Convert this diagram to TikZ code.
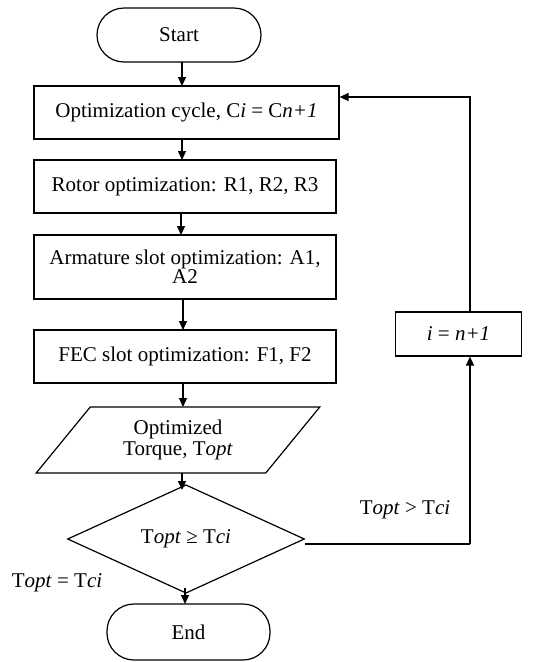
\documentclass[tikz,border=0pt]{standalone}
\usepackage{fontspec}
\setmainfont{Liberation Serif}
\usetikzlibrary{shapes.geometric,arrows.meta}
\begin{document}
\begin{tikzpicture}[x=1pt,y=-1pt,
  base/.style={draw, line width=1.2pt, inner sep=0pt, font=\fontsize{21}{18}\selectfont, align=center},
  term/.style={base, rounded corners=27pt},
  proc/.style={base, rectangle},
  io/.style={base, trapezium, trapezium left angle=50, trapezium right angle=130, trapezium stretches=true},
  dec/.style={base, diamond},
  lbl/.style={inner sep=0pt, font=\fontsize{21}{18}\selectfont},
  arr/.style={line width=1.2pt, -{Triangle[length=9pt,width=8pt]}},
  ln/.style={line width=1.2pt}]
\useasboundingbox (0,0) rectangle (552,662);
\node[term, minimum width=164, minimum height=54] (start) at (179,35) {Start};
\node[proc, minimum width=305, minimum height=53] (cyc) at (186.5,112.5) {Optimization cycle, C\textit{i} = C\textit{n+1}};
\node[proc, minimum width=302, minimum height=53] (rot) at (185,186.5) {Rotor optimization: R1, R2, R3};
\node[proc, minimum width=302, minimum height=64] (arm) at (185,267) {Armature slot optimization: A1,\\A2};
\node[proc, minimum width=302, minimum height=53] (fec) at (185,356.5) {FEC slot optimization: F1, F2};
\node[io, minimum width=284, minimum height=66] (opt) at (178,440) {Optimized\\[2pt]Torque, T\textit{opt}};
\node[dec, minimum width=237, minimum height=98] (dc) at (186,539) {T\textit{opt} ≥ T\textit{ci}};
\node[term, minimum width=163, minimum height=56] (end) at (188.5,632) {End};
\node[proc, minimum width=126, minimum height=44] (inc) at (458.5,334) {\textit{i} = \textit{n+1}};
\node[lbl] (gt) at (405,510) {T\textit{opt} > T\textit{ci}};
\node[lbl] (eq) at (57,583) {T\textit{opt} = T\textit{ci}};
\coordinate (c1) at (470,97);
\coordinate (c2) at (470,544);
\draw[arr] (182,62) -- (182,86);
\draw[arr] (182,139) -- (182,160);
\draw[arr] (181,213) -- (181,235);
\draw[arr] (183,299) -- (183,330);
\draw[arr] (183,383) -- (183,407);
\draw[arr] (182,473) -- (182,490);
\draw[arr] (185,588) -- (185,604);
\draw[arr] (inc.north -| c1) -- (c1) -- (cyc.east |- c1);
\draw[ln] (dc.east) ++(0,5) -- (c2);
\draw[arr] (c2) -- (inc.south -| c2);
\end{tikzpicture}
\end{document}
